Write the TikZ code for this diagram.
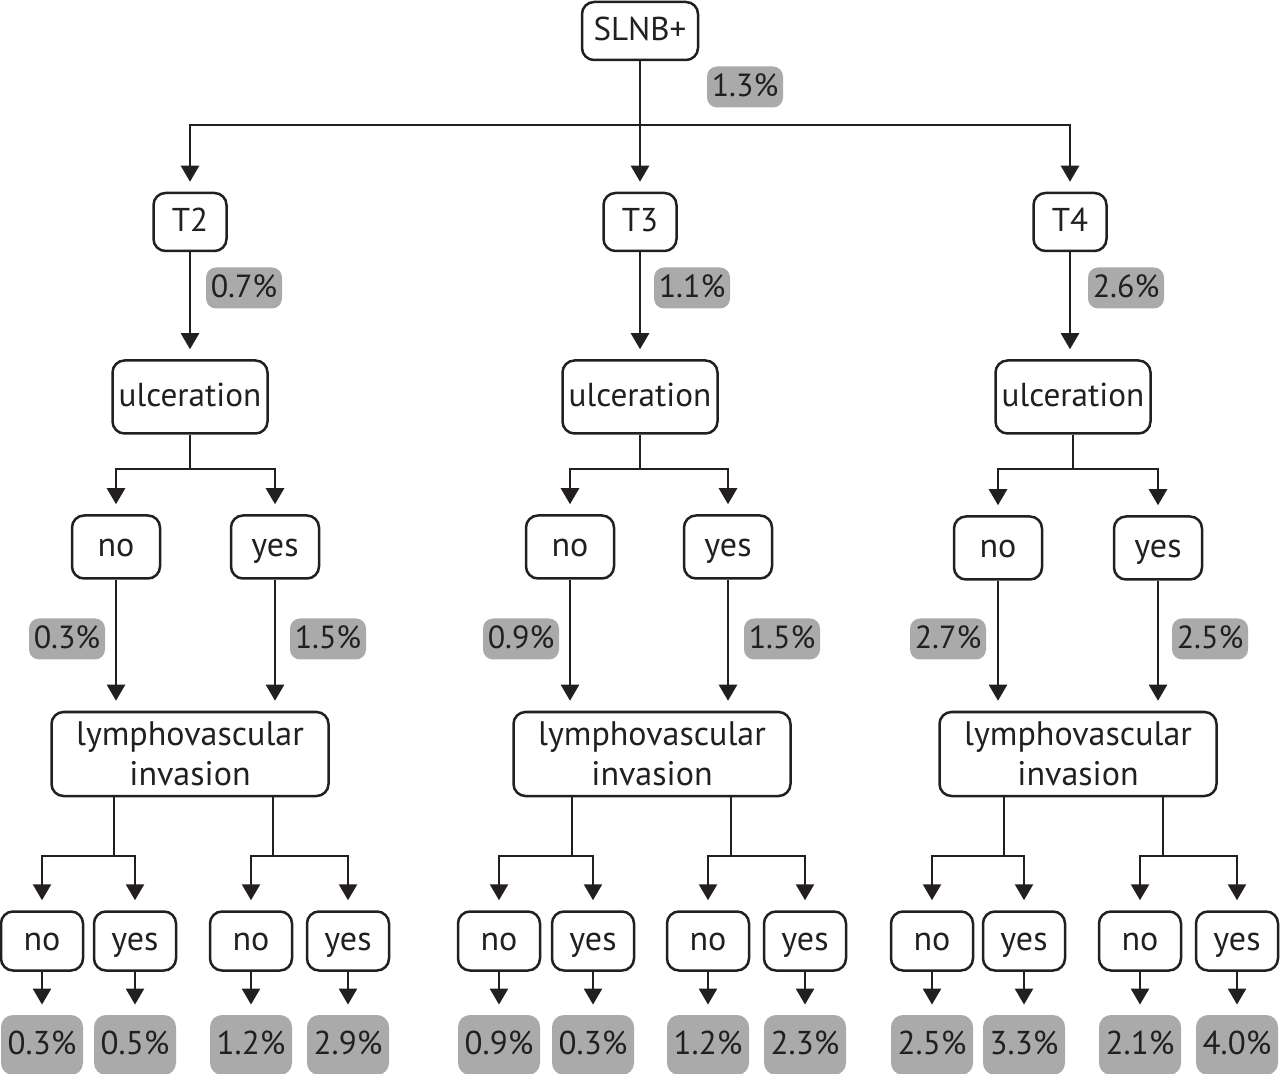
\documentclass[tikz,border=0pt]{standalone}
\usepackage{fontspec}
\setmainfont{PT Sans}
\usetikzlibrary{arrows.meta}
\definecolor{ink}{RGB}{35,31,32}
\definecolor{pgray}{RGB}{170,170,170}
\begin{document}
\begin{tikzpicture}[x=0.5pt,y=-0.5pt,
  every node/.style={font=\fontsize{17}{20}\selectfont, text=ink, inner sep=0pt, align=center},
  fixh/.style={text height=12.6pt, text depth=3.2pt},
  box/.style={draw=ink, line width=1.25pt, rounded corners=6pt, fill=white},
  tbox/.style={box, fixh, font=\fontsize{16.5}{20}\selectfont, minimum width=36.5pt, minimum height=29pt},
  ubox/.style={box, fixh, font=\fontsize{16.6}{20}\selectfont, minimum width=77.5pt, minimum height=36.5pt},
  ynbox/.style={box, fixh, minimum width=44pt, minimum height=31.5pt},
  lbox/.style={box, minimum width=138.5pt, minimum height=42pt},
  sbox/.style={box, fixh, minimum width=41pt, minimum height=29.5pt},
  pct/.style={fill=pgray, fixh, font=\fontsize{16}{20}\selectfont, rounded corners=5pt, minimum width=38pt, minimum height=20.5pt},
  bpct/.style={fill=pgray, fixh, font=\fontsize{16.5}{20}\selectfont, rounded corners=6pt, minimum width=41pt, minimum height=30pt},
  line/.style={draw=ink, line width=1.25pt},
  arr/.style={line, -{Triangle[width=9pt,length=8pt]}, shorten >=5pt}
]
\useasboundingbox (0,0) rectangle (1280,1074);

% root
\node[box, fixh, font=\fontsize{16.5}{20}\selectfont, minimum width=58pt, minimum height=29pt] (slnb) at (640,31) {SLNB+};
\node[pct] (p0) at (745,87) {1.3\%};
\coordinate (j0) at (640,125);

% T level
\node[tbox] (t2) at (190,222) {T2};
\node[tbox] (t3) at (640,222) {T3};
\node[tbox] (t4) at (1070,222) {T4};
\draw[arr] (slnb) -- (t3);
\draw[arr] (j0) -| (t2);
\draw[arr] (j0) -| (t4);
\node[pct] (pt2) at (244,288) {0.7\%};
\node[pct] (pt3) at (692,288) {1.1\%};
\node[pct] (pt4) at (1126,288) {2.6\%};

% ulceration
\node[ubox] (u1) at (190,397) {ulceration};
\node[ubox] (u2) at (640,397) {ulceration};
\node[ubox] (u3) at (1073,397) {ulceration};
\draw[arr] (t2) -- (u1);
\draw[arr] (t3) -- (u2);
\draw[arr] (t4) -- (t4 |- u3.north);

% ulceration no/yes
\node[ynbox] (n1) at (116,547) {no};
\node[ynbox] (y1) at (275,547) {yes};
\node[ynbox] (n2) at (570,547) {no};
\node[ynbox] (y2) at (728,547) {yes};
\node[ynbox] (n3) at (998,548) {no};
\node[ynbox] (y3) at (1158,548) {yes};
\coordinate (ju1) at (190,469);
\coordinate (ju2) at (640,469);
\coordinate (ju3) at (1073,469);
\draw[line] (u1) -- (ju1);
\draw[line] (u2) -- (ju2);
\draw[line] (u3) -- (ju3);
\draw[arr] (ju1) -| (n1); \draw[arr] (ju1) -| (y1);
\draw[arr] (ju2) -| (n2); \draw[arr] (ju2) -| (y2);
\draw[arr] (ju3) -| (n3); \draw[arr] (ju3) -| (y3);

% percentages
\node[pct] (pn1) at (67,639) {0.3\%};
\node[pct] (py1) at (328,639) {1.5\%};
\node[pct] (pn2) at (521,639) {0.9\%};
\node[pct] (py2) at (782,639) {1.5\%};
\node[pct] (pn3) at (948,639) {2.7\%};
\node[pct] (py3) at (1210,639) {2.5\%};

% lymphovascular invasion
\node[lbox] (l1) at (190,754) {lymphovascular\\invasion};
\node[lbox] (l2) at (652,754) {lymphovascular\\invasion};
\node[lbox] (l3) at (1078,754) {lymphovascular\\invasion};
\draw[arr] (n1) -- (n1 |- l1.north);
\draw[arr] (y1) -- (y1 |- l1.north);
\draw[arr] (n2) -- (n2 |- l2.north);
\draw[arr] (y2) -- (y2 |- l2.north);
\draw[arr] (n3) -- (n3 |- l3.north);
\draw[arr] (y3) -- (y3 |- l3.north);

% junctions below lymphovascular
\coordinate (ja1) at (114,856); \coordinate (jb1) at (273,856);
\coordinate (ja2) at (572,856); \coordinate (jb2) at (731,856);
\coordinate (ja3) at (1004,856); \coordinate (jb3) at (1163,856);
\draw[line] (ja1 |- l1.south) -- (ja1); \draw[line] (jb1 |- l1.south) -- (jb1);
\draw[line] (ja2 |- l2.south) -- (ja2); \draw[line] (jb2 |- l2.south) -- (jb2);
\draw[line] (ja3 |- l3.south) -- (ja3); \draw[line] (jb3 |- l3.south) -- (jb3);

% bottom boxes
\node[sbox] (a1) at (42,941) {no};
\node[sbox] (b1) at (135,941) {yes};
\node[sbox] (c1) at (251,941) {no};
\node[sbox] (d1) at (348,941) {yes};
\node[sbox] (a2) at (499,941) {no};
\node[sbox] (b2) at (593,941) {yes};
\node[sbox] (c2) at (708,941) {no};
\node[sbox] (d2) at (805,941) {yes};
\node[sbox] (a3) at (932,941) {no};
\node[sbox] (b3) at (1024,941) {yes};
\node[sbox] (c3) at (1140,941) {no};
\node[sbox] (d3) at (1237,941) {yes};
\draw[arr] (ja1) -| (a1); \draw[arr] (ja1) -| (b1);
\draw[arr] (jb1) -| (c1); \draw[arr] (jb1) -| (d1);
\draw[arr] (ja2) -| (a2); \draw[arr] (ja2) -| (b2);
\draw[arr] (jb2) -| (c2); \draw[arr] (jb2) -| (d2);
\draw[arr] (ja3) -| (a3); \draw[arr] (ja3) -| (b3);
\draw[arr] (jb3) -| (c3); \draw[arr] (jb3) -| (d3);

% bottom percentages
\node[bpct] (qa1) at (42,1045) {0.3\%};
\node[bpct] (qb1) at (135,1045) {0.5\%};
\node[bpct] (qc1) at (251,1045) {1.2\%};
\node[bpct] (qd1) at (348,1045) {2.9\%};
\node[bpct] (qa2) at (499,1045) {0.9\%};
\node[bpct] (qb2) at (593,1045) {0.3\%};
\node[bpct] (qc2) at (708,1045) {1.2\%};
\node[bpct] (qd2) at (805,1045) {2.3\%};
\node[bpct] (qa3) at (932,1045) {2.5\%};
\node[bpct] (qb3) at (1024,1045) {3.3\%};
\node[bpct] (qc3) at (1140,1045) {2.1\%};
\node[bpct] (qd3) at (1237,1045) {4.0\%};
\foreach \k in {1,2,3}{
  \draw[arr] (a\k) -- (qa\k);
  \draw[arr] (b\k) -- (qb\k);
  \draw[arr] (c\k) -- (qc\k);
  \draw[arr] (d\k) -- (qd\k);
}
\end{tikzpicture}
\end{document}
